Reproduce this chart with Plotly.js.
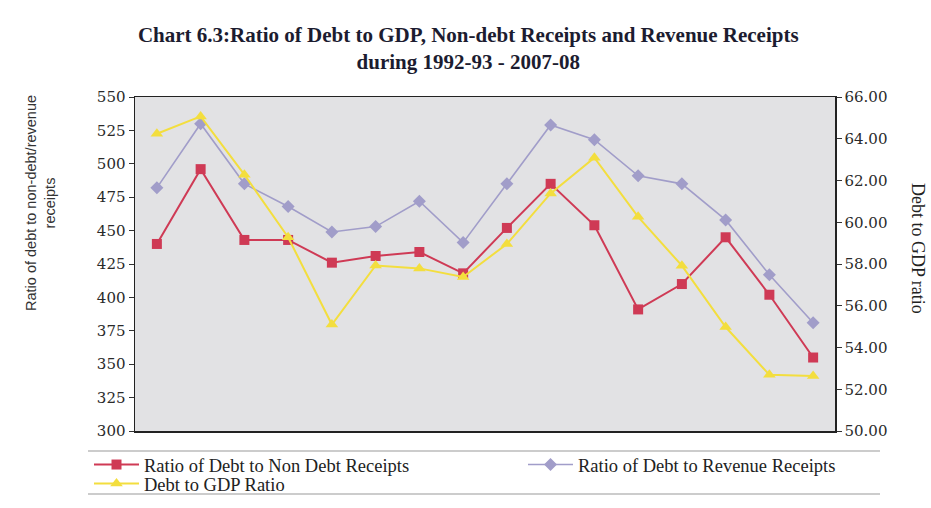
<!DOCTYPE html>
<html>
<head>
<meta charset="utf-8">
<script src="https://cdn.plot.ly/plotly-3.0.1.min.js"></script>
<style>html,body{margin:0;padding:0;background:#fff;}#chart{width:931px;height:508px;}</style>
</head>
<body>
<div id="chart"></div>
<script>
const years = ["1992-93","1993-94","1994-95","1995-96","1996-97","1997-98","1998-99","1999-00",
               "2000-01","2001-02","2002-03","2003-04","2004-05","2005-06","2006-07","2007-08"];
const debtToNonDebt = [440, 496, 443, 443, 426, 431, 434, 418, 452, 485, 454, 391, 410, 445, 402, 355];
const debtToRevenue = [482, 530, 485, 468, 449, 453, 472, 441, 485, 529, 518, 491, 485, 458, 417, 381];
const debtToGDP = [64.24, 65.07, 62.28, 59.28, 55.10, 57.93, 57.79, 57.38, 58.96, 61.38, 63.09, 60.26, 57.92, 54.98, 52.69, 52.63];

const serif = "Liberation Serif, Times New Roman, serif";
const wideSerif = "DejaVu Serif, serif";
const sans = "Liberation Sans, Arial, sans-serif";

const traces = [
  {x: years, y: debtToNonDebt, name: "Ratio of Debt to Non Debt Receipts", type: "scatter", mode: "lines+markers",
   legend: "legend",
   line: {color: "#cf3a55", width: 2}, marker: {symbol: "square", size: 10, color: "#cf3a55"}},
  {x: years, y: debtToRevenue, name: "Ratio of Debt to Revenue Receipts", type: "scatter", mode: "lines+markers",
   legend: "legend2",
   line: {color: "#a19dc9", width: 1.6}, marker: {symbol: "diamond", size: 10, color: "#a19dc9"}},
  {x: years, y: debtToGDP, name: "Debt to GDP Ratio", type: "scatter", mode: "lines+markers", yaxis: "y2",
   legend: "legend3",
   line: {color: "#f3de3e", width: 2}, marker: {symbol: "triangle-up", size: 11, color: "#f3de3e"}}
];

function leg(px, py) {
  return {xref: "container", yref: "container", x: px / 931, y: 1 - py / 508, xanchor: "left", yanchor: "top",
          orientation: "v", font: {family: serif, size: 18.5, color: "#222"}, bgcolor: "rgba(0,0,0,0)",
          borderwidth: 0, itemwidth: 45, tracegroupgap: 0};
}

const layout = {
  width: 931, height: 508,
  margin: {l: 135, r: 96, t: 97, b: 77, autoexpand: false},
  paper_bgcolor: "#ffffff",
  plot_bgcolor: "#e2e2e4",
  showlegend: true,
  title: {text: "<b>Chart 6.3:Ratio of Debt to GDP, Non-debt Receipts and Revenue Receipts<br>during 1992-93 - 2007-08</b>",
          font: {family: serif, size: 21, color: "#1c1c30"}, x: 0.503, xanchor: "center",
          yref: "container", y: 1 - 42 / 508, yanchor: "top"},
  xaxis: {type: "category", range: [-0.5, 15.5], showticklabels: false, ticks: "", showgrid: false, zeroline: false,
          showline: true, mirror: true, linecolor: "#222", linewidth: 1.5},
  yaxis: {range: [300, 550], dtick: 25, tick0: 300, showgrid: false, zeroline: false, ticks: "outside", ticklen: 5,
          tickcolor: "#333", showline: true, linecolor: "#222", linewidth: 1.5,
          tickfont: {family: wideSerif, size: 15, color: "#2a2a2a"}},
  yaxis2: {overlaying: "y", side: "right", range: [50, 66], dtick: 2, tick0: 50, tickformat: ".2f", showgrid: false,
           zeroline: false, ticks: "outside", ticklen: 5, tickcolor: "#333", showline: true, linecolor: "#222", linewidth: 1.5,
           tickfont: {family: wideSerif, size: 15, color: "#2a2a2a"}},
  legend: leg(89, 446),
  legend2: leg(523, 446),
  legend3: leg(89, 465),
  annotations: [
    {text: "Ratio of debt to non-debt/revenue<br>receipts", textangle: -90, xref: "paper", yref: "paper",
     x: (40 - 135) / 700, y: (431 - 203) / 334, xanchor: "center", yanchor: "middle", showarrow: false,
     font: {family: sans, size: 14.5, color: "#333"}},
    {text: "Debt to GDP ratio", textangle: 90, xref: "paper", yref: "paper",
     x: (918 - 135) / 700, y: (431 - 248) / 334, xanchor: "center", yanchor: "middle", showarrow: false,
     font: {family: serif, size: 18, color: "#222"}}
  ],
  shapes: [
    {type: "line", xref: "paper", yref: "paper", x0: (88 - 135) / 700, x1: (880 - 135) / 700,
     y0: (431 - 451) / 334, y1: (431 - 451) / 334, line: {color: "#999", width: 1.2}},
    {type: "line", xref: "paper", yref: "paper", x0: (88 - 135) / 700, x1: (880 - 135) / 700,
     y0: (431 - 494) / 334, y1: (431 - 494) / 334, line: {color: "#999", width: 1.2}}
  ]
};

Plotly.newPlot("chart", traces, layout, {displayModeBar: false, staticPlot: true});
</script>
</body>
</html>
